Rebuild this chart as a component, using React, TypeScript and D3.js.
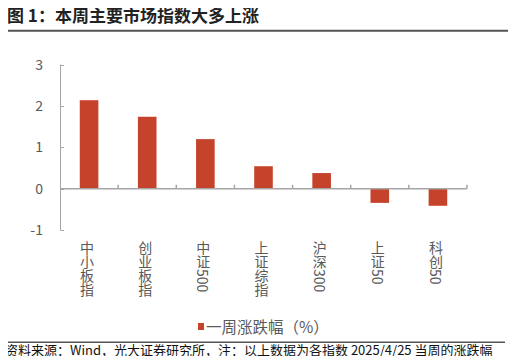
import React from "react";
import * as d3 from "d3";

const categories = ["中小板指", "创业板指", "中证500", "上证综指", "沪深300", "上证50", "科创50"];
const values = [2.14, 1.74, 1.2, 0.545, 0.38, -0.34, -0.41];
const yTicks = [-1, 0, 1, 2, 3];
const title = "图 1：本周主要市场指数大多上涨";
const legendLabel = "一周涨跌幅（%）";
const source = "资料来源：Wind，光大证券研究所，注：以上数据为各指数 2025/4/25 当周的涨跌幅";

const W = 516;
const H = 364;
const FONT = "'Noto Sans CJK SC', 'Noto Sans', sans-serif";
const BAR = "#C5432A";
const GRAY = "#595959";
const AXIS = "#A6A6A6";

export default function App() {
  const x = d3.scaleBand<string>().domain(categories).range([60, 467]).paddingInner(0.68).paddingOuter(0.34);
  const xb = d3.scaleBand<string>().domain(categories).range([60, 467]);
  const y = d3.scaleLinear().domain([-1, 3]).range([230.2, 64.6]);
  const y0 = y(0);
  return (
    <div style={{ margin: -8, width: W, height: H }}>
      <svg width={W} height={H} style={{ display: "block" }} fontFamily={FONT}>
        <rect width={W} height={H} fill="#fff" />
        <text x={7} y={22} fontSize={17} fontWeight="bold" fill="#222">{title}</text>
        <line x1={5} x2={511} y1={30.7} y2={30.7} stroke="#555" strokeWidth={2} />
        {/* y axis */}
        <line x1={60.5} x2={60.5} y1={y(3)} y2={y(-1)} stroke={AXIS} strokeWidth={1} />
        {yTicks.map((t) => (
          <g key={t}>
            <line x1={60.5} x2={64} y1={Math.round(y(t)) + 0.5} y2={Math.round(y(t)) + 0.5} stroke={AXIS} />
            <text x={43} y={y(t)} dy="0.35em" textAnchor="end" fontSize={14} fill={GRAY}>{t}</text>
          </g>
        ))}
        {/* bars */}
        {categories.map((c, i) => {
          const v = values[i];
          return (
            <rect key={c} x={x(c)} width={x.bandwidth()} y={Math.min(y(v), y0)} height={Math.abs(y(v) - y0)} fill={BAR} />
          );
        })}
        {/* x axis */}
        <line x1={60} x2={467} y1={y0} y2={y0} stroke={AXIS} strokeWidth={1.5} />
        {categories.map((c) => (
          <line key={"t" + c} x1={(xb(c) as number) + xb.bandwidth()} x2={(xb(c) as number) + xb.bandwidth()} y1={y0} y2={y0 - 4} stroke={AXIS} strokeWidth={1.5} />
        ))}
        {categories.map((c) => (
          <text
            key={"l" + c}
            x={(xb(c) as number) + xb.bandwidth() / 2 - 2}
            y={241}
            fontSize={14}
            fill={GRAY}
            style={{ writingMode: "vertical-rl" } as any}
          >
            {c}
          </text>
        ))}
        {/* legend */}
        <rect x={198} y={323} width={6} height={7} fill={BAR} />
        <text x={206} y={332.5} fontSize={15.5} fill={GRAY}>{legendLabel}</text>
        <line x1={5} x2={505} y1={342.3} y2={342.3} stroke="#555" strokeWidth={1.5} />
        <text x={5} y={355} fontSize={13} fill="#111">{source}</text>
      </svg>
    </div>
  );
}
